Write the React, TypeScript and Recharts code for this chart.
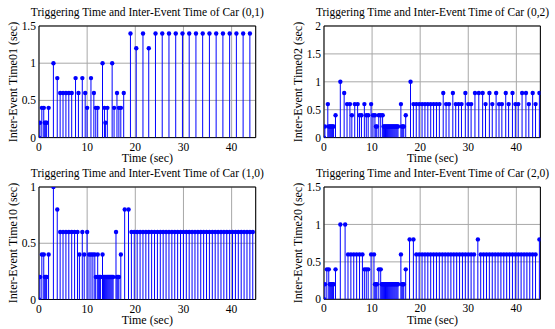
import React from 'react';
import { ComposedChart, Bar, Scatter, XAxis, YAxis, CartesianGrid, ReferenceArea } from 'recharts';

// ---- Data (time of triggering event, inter-event time) ----
const car01Times = [0, 0.2, 0.6, 1.0, 1.2, 1.4, 1.6, 2.0, 3.0, 3.8, 4.4, 5.0, 5.6, 6.2, 6.8, 7.6, 8.2, 9.0, 9.6, 10.0, 10.8, 11.4, 11.8, 12.2, 13.2, 13.6, 13.8, 14.2, 15.2, 15.6, 16.2, 16.6, 17.0, 17.6, 19.0, 20.2, 21.6, 22.8, 24.2, 25.6, 27.0, 28.4, 29.8, 31.2, 32.6, 34.0, 35.4, 36.8, 38.2, 39.6, 41.0, 42.4, 43.8];
const car01Values = [0, 0.2, 0.4, 0.4, 0.2, 0.2, 0.2, 0.4, 1.0, 0.8, 0.6, 0.6, 0.6, 0.6, 0.6, 0.8, 0.6, 0.8, 0.6, 0.4, 0.8, 0.6, 0.4, 0.4, 1.0, 0.4, 0.2, 0.4, 1.0, 0.4, 0.6, 0.4, 0.4, 0.6, 1.4, 1.2, 1.4, 1.2, 1.4, 1.4, 1.4, 1.4, 1.4, 1.4, 1.4, 1.4, 1.4, 1.4, 1.4, 1.4, 1.4, 1.4, 1.4];

const car02Times = [0, 0.2, 0.8, 1.0, 1.2, 1.4, 1.6, 1.8, 2.0, 2.4, 3.4, 4.2, 4.8, 5.4, 5.8, 6.4, 7.0, 7.4, 7.8, 8.4, 8.8, 9.2, 9.8, 10.2, 10.6, 10.8, 11.0, 11.4, 11.8, 12.2, 12.4, 12.6, 12.8, 13.0, 13.2, 13.4, 13.6, 13.8, 14.0, 14.2, 14.4, 14.6, 14.8, 15.0, 15.2, 15.4, 16.0, 16.2, 16.4, 16.6, 17.0, 18.0, 18.6, 19.2, 19.8, 20.4, 21.0, 21.6, 22.2, 22.8, 23.4, 24.0, 24.8, 25.4, 26.0, 26.8, 27.4, 28.0, 28.6, 29.4, 30.0, 30.6, 31.4, 32.2, 33.0, 33.6, 34.4, 35.0, 35.8, 36.4, 37.0, 37.8, 38.4, 39.2, 39.8, 40.4, 41.2, 42.0, 42.6, 43.4, 44.0, 44.8];
const car02Values = [0, 0.2, 0.6, 0.2, 0.2, 0.2, 0.2, 0.2, 0.2, 0.4, 1.0, 0.8, 0.6, 0.6, 0.4, 0.6, 0.6, 0.4, 0.4, 0.6, 0.4, 0.4, 0.6, 0.4, 0.4, 0.2, 0.2, 0.4, 0.4, 0.4, 0.2, 0.2, 0.2, 0.2, 0.2, 0.2, 0.2, 0.2, 0.2, 0.2, 0.2, 0.2, 0.2, 0.2, 0.2, 0.2, 0.6, 0.2, 0.2, 0.2, 0.4, 1.0, 0.6, 0.6, 0.6, 0.6, 0.6, 0.6, 0.6, 0.6, 0.6, 0.6, 0.8, 0.6, 0.6, 0.8, 0.6, 0.6, 0.6, 0.8, 0.6, 0.6, 0.8, 0.8, 0.8, 0.6, 0.8, 0.6, 0.8, 0.6, 0.6, 0.8, 0.6, 0.8, 0.6, 0.6, 0.8, 0.8, 0.6, 0.8, 0.6, 0.8];

const car10Times = [0, 0.2, 0.6, 1.0, 1.2, 1.4, 1.6, 2.0, 3.0, 3.8, 4.4, 5.0, 5.6, 6.2, 6.8, 7.4, 8.0, 8.4, 9.0, 9.4, 10.0, 10.4, 10.8, 11.2, 11.6, 11.8, 12.2, 12.4, 12.6, 12.8, 13.2, 13.4, 13.6, 13.8, 14.0, 14.2, 14.4, 14.6, 14.8, 15.0, 15.2, 15.4, 16.0, 16.2, 16.4, 16.6, 17.0, 17.8, 18.6, 19.2, 19.8, 20.4, 21.0, 21.6, 22.2, 22.8, 23.4, 24.0, 24.6, 25.2, 25.8, 26.4, 27.0, 27.6, 28.2, 28.8, 29.4, 30.0, 30.6, 31.2, 31.8, 32.4, 33.0, 33.6, 34.2, 34.8, 35.4, 36.0, 36.6, 37.2, 37.8, 38.4, 39.0, 39.6, 40.2, 40.8, 41.4, 42.0, 42.6, 43.2, 43.8, 44.4];
const car10Values = [0, 0.2, 0.4, 0.4, 0.2, 0.2, 0.2, 0.4, 1.0, 0.8, 0.6, 0.6, 0.6, 0.6, 0.6, 0.6, 0.6, 0.4, 0.6, 0.4, 0.6, 0.4, 0.4, 0.4, 0.4, 0.2, 0.4, 0.2, 0.2, 0.2, 0.4, 0.2, 0.2, 0.2, 0.2, 0.2, 0.2, 0.2, 0.2, 0.2, 0.2, 0.2, 0.6, 0.2, 0.2, 0.2, 0.4, 0.8, 0.8, 0.6, 0.6, 0.6, 0.6, 0.6, 0.6, 0.6, 0.6, 0.6, 0.6, 0.6, 0.6, 0.6, 0.6, 0.6, 0.6, 0.6, 0.6, 0.6, 0.6, 0.6, 0.6, 0.6, 0.6, 0.6, 0.6, 0.6, 0.6, 0.6, 0.6, 0.6, 0.6, 0.6, 0.6, 0.6, 0.6, 0.6, 0.6, 0.6, 0.6, 0.6, 0.6, 0.6];

const car20Times = [0, 0.2, 0.6, 1.0, 1.2, 1.4, 1.6, 1.8, 2.0, 2.4, 3.4, 4.4, 5.0, 5.6, 6.2, 6.8, 7.4, 8.0, 8.4, 8.8, 9.2, 9.8, 10.4, 10.6, 10.8, 11.0, 11.4, 11.8, 12.0, 12.2, 12.4, 12.6, 12.8, 13.0, 13.2, 13.4, 13.6, 13.8, 14.0, 14.2, 14.4, 14.6, 14.8, 15.0, 15.2, 15.4, 16.0, 16.2, 16.4, 16.6, 17.0, 17.8, 18.6, 19.2, 19.8, 20.4, 21.0, 21.6, 22.2, 22.8, 23.4, 24.0, 24.6, 25.2, 25.8, 26.4, 27.0, 27.6, 28.2, 28.8, 29.4, 30.0, 30.6, 31.2, 32.0, 32.6, 33.2, 33.8, 34.4, 35.0, 35.6, 36.2, 36.8, 37.4, 38.0, 38.6, 39.2, 39.8, 40.4, 41.0, 41.6, 42.2, 42.8, 43.4, 44.0, 44.8];
const car20Values = [0, 0.2, 0.4, 0.4, 0.2, 0.2, 0.2, 0.2, 0.2, 0.4, 1.0, 1.0, 0.6, 0.6, 0.6, 0.6, 0.6, 0.6, 0.4, 0.4, 0.4, 0.6, 0.6, 0.2, 0.2, 0.2, 0.4, 0.4, 0.2, 0.2, 0.2, 0.2, 0.2, 0.2, 0.2, 0.2, 0.2, 0.2, 0.2, 0.2, 0.2, 0.2, 0.2, 0.2, 0.2, 0.2, 0.6, 0.2, 0.2, 0.2, 0.4, 0.8, 0.8, 0.6, 0.6, 0.6, 0.6, 0.6, 0.6, 0.6, 0.6, 0.6, 0.6, 0.6, 0.6, 0.6, 0.6, 0.6, 0.6, 0.6, 0.6, 0.6, 0.6, 0.6, 0.8, 0.6, 0.6, 0.6, 0.6, 0.6, 0.6, 0.6, 0.6, 0.6, 0.6, 0.6, 0.6, 0.6, 0.6, 0.6, 0.6, 0.6, 0.6, 0.6, 0.6, 0.8];

const xTicks = [0, 10, 20, 30, 40];
const yTicks15 = [0, 0.5, 1, 1.5];
const yTicks2 = [0, 0.5, 1, 1.5, 2];
const yTicks1 = [0, 0.5, 1];

const FONT = '"Liberation Serif", "Times New Roman", serif';
const BLUE = '#0000ff';

type PanelProps = {
  left: number; top: number; width: number; height: number;
  times: number[]; values: number[]; yMax: number; yTicks: number[];
  title: string; yLabel: string;
};

const Stem = (p: any) => {
  const cx = p.x + p.width / 2;
  return <line x1={cx} x2={cx} y1={p.y} y2={p.y + p.height} stroke={BLUE} strokeWidth={1} />;
};

const Dot = (p: any) => <circle cx={p.cx} cy={p.cy} r={2.2} fill={BLUE} />;

function Panel({ left, top, width, height, times, values, yMax, yTicks, title, yLabel }: PanelProps) {
  const data = times.map((t, i) => ({ t, v: values[i] }));
  const mL = 5, yW = 30, mT = 10, xH = 18, mB = 5, mR = 6;
  const tickStyle = { fontFamily: FONT, fontSize: 11.5, fill: '#000' };
  return (
    <>
      <div style={{ position: 'absolute', left: left - mL - yW, top: top - mT }}>
        <ComposedChart
          width={width + mL + yW + mR}
          height={height + mT + xH + mB}
          data={data}
          margin={{ top: mT, left: mL, right: mR, bottom: mB }}
        >
          <CartesianGrid stroke="#a8a8a8" strokeWidth={1} />
          <XAxis dataKey="t" type="number" domain={[0, 45]} ticks={xTicks} allowDataOverflow
            height={xH} tickLine={false} axisLine={false} tickSize={3} tickMargin={2} tick={tickStyle} interval={0} />
          <YAxis type="number" domain={[0, yMax]} ticks={yTicks} allowDataOverflow
            width={yW} tickLine={false} axisLine={false} tickSize={2} tickMargin={1} tick={tickStyle} interval={0} />
          <Bar dataKey="v" barSize={1} shape={Stem} isAnimationActive={false} />
          <Scatter dataKey="v" shape={Dot} isAnimationActive={false} />
          <ReferenceArea x1={0} x2={45} y1={0} y2={yMax} fill="none" fillOpacity={0} stroke="#000" strokeWidth={1} />
        </ComposedChart>
      </div>
      <div style={{ position: 'absolute', left: left + width / 2, top: top - 13, transform: 'translate(-50%, -50%)', whiteSpace: 'nowrap', fontFamily: FONT, fontSize: 11.5, lineHeight: 1 }}>{title}</div>
      <div style={{ position: 'absolute', left: left + width / 2, top: top + height + 21, transform: 'translate(-50%, -50%)', whiteSpace: 'nowrap', fontFamily: FONT, fontSize: 12, lineHeight: 1 }}>Time (sec)</div>
      <div style={{ position: 'absolute', left: left - 26, top: top + height / 2, transform: 'translate(-50%, -50%) rotate(-90deg)', whiteSpace: 'nowrap', fontFamily: FONT, fontSize: 12, lineHeight: 1 }}>{yLabel}</div>
    </>
  );
}

export default function App() {
  return (
    <div style={{ position: 'absolute', left: 0, top: 0, width: 555, height: 329, background: '#fff', overflow: 'hidden' }}>
      <Panel left={39} top={25.7} width={216.7} height={111.6} times={car01Times} values={car01Values} yMax={1.5} yTicks={yTicks15}
        title="Triggering Time and Inter-Event Time of Car (0,1)" yLabel="Inter-Event Time01 (sec)" />
      <Panel left={324.3} top={25.7} width={216.4} height={111.6} times={car02Times} values={car02Values} yMax={2} yTicks={yTicks2}
        title="Triggering Time and Inter-Event Time of Car (0,2)" yLabel="Inter-Event Time02 (sec)" />
      <Panel left={39} top={186.8} width={216.7} height={112.5} times={car10Times} values={car10Values} yMax={1} yTicks={yTicks1}
        title="Triggering Time and Inter-Event Time of Car (1,0)" yLabel="Inter-Event Time10 (sec)" />
      <Panel left={324.3} top={187} width={216.4} height={112.3} times={car20Times} values={car20Values} yMax={1.5} yTicks={yTicks15}
        title="Triggering Time and Inter-Event Time of Car (2,0)" yLabel="Inter-Event Time20 (sec)" />
    </div>
  );
}
